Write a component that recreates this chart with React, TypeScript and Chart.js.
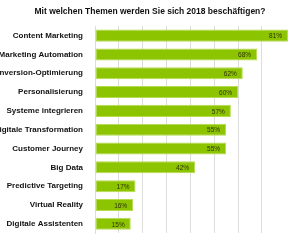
import React, { useEffect, useRef } from "react";
import { Chart, registerables } from "chart.js";

Chart.register(...registerables);

const categories = [
  "Content Marketing",
  "Marketing Automation",
  "Conversion-Optimierung",
  "Personalisierung",
  "Systeme integrieren",
  "Digitale Transformation",
  "Customer Journey",
  "Big Data",
  "Predictive Targeting",
  "Virtual Reality",
  "Digitale Assistenten",
];
const values = [81, 68, 62, 60, 57, 55, 55, 42, 17, 16, 15];
const titleText = "Mit welchen Themen werden Sie sich 2018 beschäftigen?";

const FONT = "'Liberation Sans', Arial, sans-serif";

const dataLabelPlugin = {
  id: "dataLabels",
  afterDatasetsDraw(chart: any) {
    const ctx = chart.ctx;
    const meta = chart.getDatasetMeta(0);
    ctx.save();
    ctx.font = `6.5px ${FONT}`;
    ctx.fillStyle = "#2e3308";
    ctx.textAlign = "right";
    ctx.textBaseline = "middle";
    meta.data.forEach((bar: any, i: number) => {
      ctx.fillText(values[i] + "%", bar.x - 6, bar.y + 1);
    });
    ctx.restore();
  },
};

export default function App() {
  const ref = useRef<HTMLCanvasElement>(null);
  useEffect(() => {
    if (!ref.current) return;
    const chart = new Chart(ref.current, {
      type: "bar",
      data: {
        labels: categories,
        datasets: [
          {
            data: values,
            backgroundColor: "#8cc400",
            borderColor: "#b5dc4f",
            borderWidth: 1,
            borderSkipped: false,
            barPercentage: 0.8,
            categoryPercentage: 0.8,
          },
        ],
      },
      options: {
        indexAxis: "y",
        animation: false,
        responsive: false,
        maintainAspectRatio: false,
        layout: { padding: { top: 0, bottom: 8, left: 0, right: 0 } },
        plugins: {
          legend: { display: false },
          tooltip: { enabled: false },
          title: {
            display: true,
            text: titleText,
            font: { family: FONT, size: 8.5, weight: "bold" },
            color: "#111",
            padding: { top: 7, bottom: 9 },
          },
        },
        scales: {
          x: {
            min: 0,
            max: 86,
            ticks: { display: false, stepSize: 10 },
            grid: {
              color: (c: any) => (c.tick && c.tick.value % 10 === 0 ? "#dcdcdc" : "rgba(0,0,0,0)"),
              drawTicks: false,
            },
            border: { display: false },
            afterFit(scale: any) {
              scale.height = 0;
            },
          },
          y: {
            ticks: {
              font: { family: FONT, size: 8, weight: "bold" },
              color: "#111",
              padding: 12,
              autoSkip: false,
            },
            grid: { display: false, drawTicks: false },
            border: { display: true, color: "#dcdcdc" },
            afterFit(scale: any) {
              scale.width = 95;
            },
          },
        },
      },
      plugins: [dataLabelPlugin],
    });
    return () => chart.destroy();
  }, []);
  return (
    <div style={{ position: "fixed", left: 0, top: 0, width: 300, height: 240, overflow: "hidden", background: "#fff" }}>
      <canvas ref={ref} width={300} height={250} style={{ display: "block" }} />
    </div>
  );
}
